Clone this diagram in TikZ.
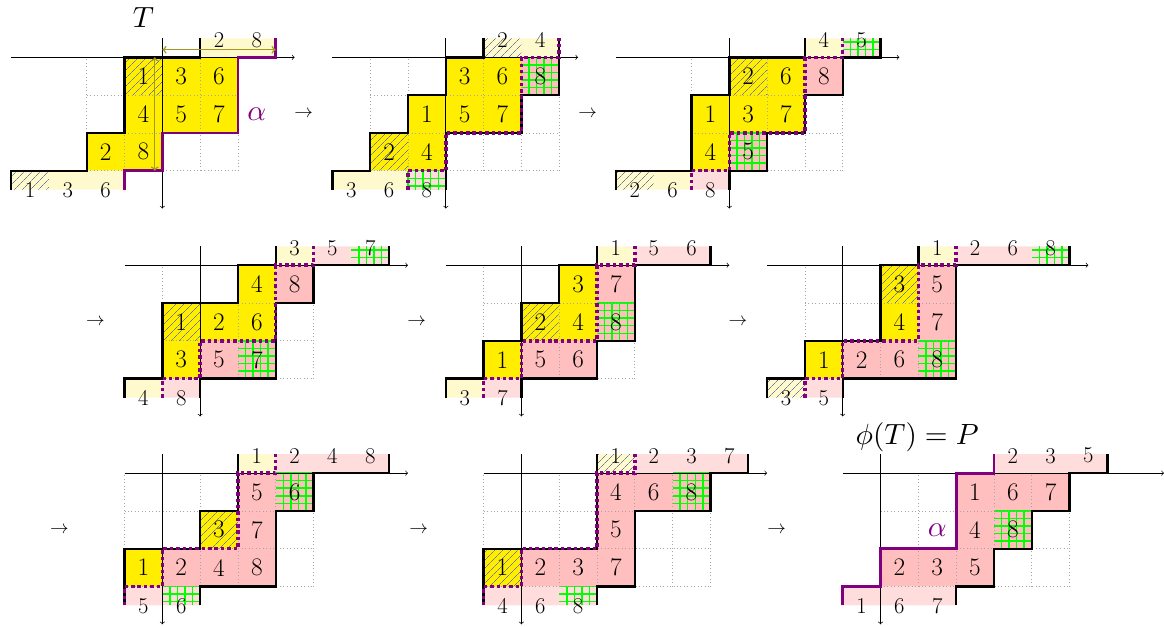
\RequirePackage{fix-cm}
\documentclass[tikz,border=0pt]{standalone}
\usetikzlibrary{patterns.meta}
\DeclareFontShape{OT1}{cmr}{m}{n}{<->cmr10}{}
\DeclareFontShape{OML}{cmm}{m}{it}{<->cmmi10}{}

\definecolor{cellyellow}{RGB}{255,238,0}
\definecolor{stripyellow}{RGB}{255,249,206}
\definecolor{cellpink}{RGB}{255,191,191}
\definecolor{strippink}{RGB}{255,221,221}
\definecolor{hatchgray}{RGB}{110,120,150}
\definecolor{alphacol}{RGB}{128,0,128}
\definecolor{spancol}{RGB}{165,152,30}

\tikzset{
  val/.style={font=\fontsize{19}{23}\selectfont, inner sep=0pt},
  sval/.style={font=\fontsize{17}{20}\selectfont, inner sep=0pt},
  bigmath/.style={font=\fontsize{22}{26}\selectfont, inner sep=0pt},
  hatched/.style={pattern={Lines[angle=45,distance=4pt,line width=0.5pt]}, pattern color=hatchgray},
  newcell/.style={green, line width=1.1pt, step=0.2},
  cellgrid/.style={gray!70, dotted, line width=0.6pt},
  axisline/.style={->, line width=0.5pt},
  shapeline/.style={line width=1.8pt},
  alphapath/.style={alphacol, line width=2.1pt},
  alphadots/.style={alphacol, line width=2.6pt, dash pattern=on 2.6pt off 2.2pt},
  spanarrow/.style={<->, spancol, line width=1.1pt},
  stepto/.style={font=\fontsize{14}{16}\selectfont, inner sep=0pt},
}

\begin{document}
\begin{tikzpicture}[x=1cm,y=1cm]
\useasboundingbox (-4.294,1.516) rectangle (26.5,-15.045);

% T
\begin{scope}
\fill[cellyellow] (-1,0) -- (2,0) -- (2,-2) -- (0,-2) -- (0,-3) -- (-2,-3) -- (-2,-2) -- (-1,-2) -- cycle;
\fill[stripyellow] (1,.5) rectangle (3,0) (-4,-3) rectangle (-1,-3.5);
\path[hatched] (-1,0) rectangle (0,-1) (-4,-3) rectangle (-3,-3.5);
\draw[cellgrid] (-2,0) grid (2,-3);
\draw[axisline] (-4,0) -- (3.5,0);
\draw[axisline] (0,.5) -- (0,-4);
\node[val] (a1) at (-.5,-.5) {1};
\node[val] (a3) at (.5,-.5) {3};
\node[val] (a6) at (1.5,-.5) {6};
\node[val] (a4) at (-.5,-1.5) {4};
\node[val] (a5) at (.5,-1.5) {5};
\node[val] (a7) at (1.5,-1.5) {7};
\node[val] (a2) at (-1.5,-2.5) {2};
\node[val] (a8) at (-.5,-2.5) {8};
\node[sval] (a2t) at (1.5,.46) {2};
\node[sval] (a8t) at (2.5,.46) {8};
\node[sval] (a1b) at (-3.5,-3.52) {1};
\node[sval] (a3b) at (-2.5,-3.52) {3};
\node[sval] (a6b) at (-1.5,-3.52) {6};
\draw[shapeline] (-4,-3.5) -- (-4,-3) -- (-2,-3) -- (-2,-2) -- (-1,-2) -- (-1,0) -- (1,0) -- (1,.5);
\draw[alphapath] (-1,-3.5) -- (-1,-3) -- (0,-3) -- (0,-2) -- (2,-2) -- (2,0) -- (3,0) -- (3,.5);
\coordinate (hl) at (0,.2);
\coordinate (hr) at (3,.2);
\coordinate (vt) at (-.2,0);
\coordinate (vb) at (-.2,-3);
\draw[spanarrow] (hl) -- (hr);
\draw[spanarrow] (vt) -- (vb);
\node[bigmath] (lblT) at (-.5,1.05) {$T$};
\node[bigmath, text=alphacol] (alphaT) at (2.5,-1.5) {$\alpha$};
\end{scope}

\node[stepto] (to1) at (3.74,-1.5) {$\to$};

% step 1
\begin{scope}[shift={(7.5,0)}]
\fill[cellyellow] (0,0) -- (2,0) -- (2,-2) -- (0,-2) -- (0,-3) -- (-2,-3) -- (-2,-2) -- (-1,-2) -- (-1,-1) -- (0,-1) -- cycle;
\fill[cellpink] (2,0) rectangle (3,-1);
\fill[stripyellow] (1,.5) rectangle (3,0) (-3,-3) rectangle (-1,-3.5);
\fill[strippink] (-1,-3) rectangle (0,-3.5);
\path[hatched] (-2,-2) rectangle (-1,-3) (1,.5) rectangle (2,0);
\draw[newcell] (2,0) grid (3,-1) (-1,-3) grid (0,-3.5);
\draw[cellgrid] (-2,0) grid (3,-3);
\draw[axisline] (-3,0) -- (3.5,0);
\draw[axisline] (0,.5) -- (0,-4);
\node[val] (b3) at (.5,-.5) {3};
\node[val] (b6) at (1.5,-.5) {6};
\node[val] (b8) at (2.5,-.5) {8};
\node[val] (b1) at (-.5,-1.5) {1};
\node[val] (b5) at (.5,-1.5) {5};
\node[val] (b7) at (1.5,-1.5) {7};
\node[val] (b2) at (-1.5,-2.5) {2};
\node[val] (b4) at (-.5,-2.5) {4};
\node[sval] (b2t) at (1.5,.46) {2};
\node[sval] (b4t) at (2.5,.46) {4};
\node[sval] (b3b) at (-2.5,-3.52) {3};
\node[sval] (b6b) at (-1.5,-3.52) {6};
\node[sval] (b8b) at (-.5,-3.52) {8};
\draw[shapeline] (-3,-3.5) -- (-3,-3) -- (-2,-3) -- (-2,-2) -- (-1,-2) -- (-1,-1) -- (0,-1) -- (0,0) -- (1,0) -- (1,.5);
\draw[shapeline] (0,-3.5) -- (0,-2) -- (2,-2) -- (2,-1) -- (3,-1) -- (3,.5);
\draw[alphadots] (-1,-3.5) -- (-1,-3) -- (0,-3) -- (0,-2) -- (2,-2) -- (2,0) -- (3,0) -- (3,.5);
\end{scope}

\node[stepto] (to2) at (11.25,-1.5) {$\to$};

% step 2
\begin{scope}[shift={(15,0)}]
\fill[cellyellow] (0,0) -- (2,0) -- (2,-2) -- (0,-2) -- (0,-3) -- (-1,-3) -- (-1,-1) -- (0,-1) -- cycle;
\fill[cellpink] (2,0) rectangle (3,-1) (0,-2) rectangle (1,-3);
\fill[stripyellow] (2,.5) rectangle (3,0) (-3,-3) rectangle (-1,-3.5);
\fill[strippink] (3,.5) rectangle (4,0) (-1,-3) rectangle (0,-3.5);
\path[hatched] (0,0) rectangle (1,-1) (-3,-3) rectangle (-2,-3.5);
\draw[newcell] (0,-2) grid (1,-3) (3,.5) grid (4,0);
\draw[cellgrid] (-1,0) grid (3,-3);
\draw[axisline] (-3,0) -- (4.5,0);
\draw[axisline] (0,.5) -- (0,-4);
\node[val] (c2) at (.5,-.5) {2};
\node[val] (c6) at (1.5,-.5) {6};
\node[val] (c8) at (2.5,-.5) {8};
\node[val] (c1) at (-.5,-1.5) {1};
\node[val] (c3) at (.5,-1.5) {3};
\node[val] (c7) at (1.5,-1.5) {7};
\node[val] (c4) at (-.5,-2.5) {4};
\node[val] (c5) at (.5,-2.5) {5};
\node[sval] (c4t) at (2.5,.46) {4};
\node[sval] (c5t) at (3.5,.46) {5};
\node[sval] (c2b) at (-2.5,-3.52) {2};
\node[sval] (c6b) at (-1.5,-3.52) {6};
\node[sval] (c8b) at (-.5,-3.52) {8};
\draw[shapeline] (-3,-3.5) -- (-3,-3) -- (-1,-3) -- (-1,-1) -- (0,-1) -- (0,0) -- (2,0) -- (2,.5);
\draw[shapeline] (0,-3.5) -- (0,-3) -- (1,-3) -- (1,-2) -- (2,-2) -- (2,-1) -- (3,-1) -- (3,0) -- (4,0) -- (4,.5);
\draw[alphadots] (-1,-3.5) -- (-1,-3) -- (0,-3) -- (0,-2) -- (2,-2) -- (2,0) -- (3,0) -- (3,.5);
\end{scope}

\node[stepto] (to3) at (-1.77,-7) {$\to$};

% step 3
\begin{scope}[shift={(1,-5.5)}]
\fill[cellyellow] (1,0) -- (2,0) -- (2,-2) -- (0,-2) -- (0,-3) -- (-1,-3) -- (-1,-1) -- (1,-1) -- cycle;
\fill[cellpink] (2,0) rectangle (3,-1) (0,-2) rectangle (2,-3);
\fill[stripyellow] (2,.5) rectangle (3,0) (-2,-3) rectangle (-1,-3.5);
\fill[strippink] (3,.5) rectangle (5,0) (-1,-3) rectangle (0,-3.5);
\path[hatched] (-1,-1) rectangle (0,-2);
\draw[newcell] (1,-2) grid (2,-3) (4,.5) grid (5,0);
\draw[cellgrid] (-1,0) grid (3,-3);
\draw[axisline] (-2,0) -- (5.5,0);
\draw[axisline] (0,.5) -- (0,-4);
\node[val] (d4) at (1.5,-.5) {4};
\node[val] (d8) at (2.5,-.5) {8};
\node[val] (d1) at (-.5,-1.5) {1};
\node[val] (d2) at (.5,-1.5) {2};
\node[val] (d6) at (1.5,-1.5) {6};
\node[val] (d3) at (-.5,-2.5) {3};
\node[val] (d5) at (.5,-2.5) {5};
\node[val] (d7) at (1.5,-2.5) {7};
\node[sval] (d3t) at (2.5,.46) {3};
\node[sval] (d5t) at (3.5,.46) {5};
\node[sval] (d7t) at (4.5,.46) {7};
\node[sval] (d4b) at (-1.5,-3.52) {4};
\node[sval] (d8b) at (-.5,-3.52) {8};
\draw[shapeline] (-2,-3.5) -- (-2,-3) -- (-1,-3) -- (-1,-1) -- (1,-1) -- (1,0) -- (2,0) -- (2,.5);
\draw[shapeline] (0,-3.5) -- (0,-3) -- (2,-3) -- (2,-1) -- (3,-1) -- (3,0) -- (5,0) -- (5,.5);
\draw[alphadots] (-1,-3.5) -- (-1,-3) -- (0,-3) -- (0,-2) -- (2,-2) -- (2,0) -- (3,0) -- (3,.5);
\end{scope}

\node[stepto] (to4) at (6.73,-7) {$\to$};

% step 4
\begin{scope}[shift={(9.5,-5.5)}]
\fill[cellyellow] (1,0) -- (2,0) -- (2,-2) -- (0,-2) -- (0,-1) -- (1,-1) -- cycle (-1,-2) rectangle (0,-3);
\fill[cellpink] (2,0) rectangle (3,-2) (0,-2) rectangle (2,-3);
\fill[stripyellow] (2,.5) rectangle (3,0) (-2,-3) rectangle (-1,-3.5);
\fill[strippink] (3,.5) rectangle (5,0) (-1,-3) rectangle (0,-3.5);
\path[hatched] (0,-1) rectangle (1,-2);
\draw[newcell] (2,-1) grid (3,-2);
\draw[cellgrid] (-1,0) grid (3,-3);
\draw[axisline] (-2,0) -- (5.5,0);
\draw[axisline] (0,.5) -- (0,-4);
\node[val] (e3) at (1.5,-.5) {3};
\node[val] (e7) at (2.5,-.5) {7};
\node[val] (e2) at (.5,-1.5) {2};
\node[val] (e4) at (1.5,-1.5) {4};
\node[val] (e8) at (2.5,-1.5) {8};
\node[val] (e1) at (-.5,-2.5) {1};
\node[val] (e5) at (.5,-2.5) {5};
\node[val] (e6) at (1.5,-2.5) {6};
\node[sval] (e1t) at (2.5,.46) {1};
\node[sval] (e5t) at (3.5,.46) {5};
\node[sval] (e6t) at (4.5,.46) {6};
\node[sval] (e3b) at (-1.5,-3.52) {3};
\node[sval] (e7b) at (-.5,-3.52) {7};
\draw[shapeline] (-2,-3.5) -- (-2,-3) -- (-1,-3) -- (-1,-2) -- (0,-2) -- (0,-1) -- (1,-1) -- (1,0) -- (2,0) -- (2,.5);
\draw[shapeline] (0,-3.5) -- (0,-3) -- (2,-3) -- (2,-2) -- (3,-2) -- (3,0) -- (5,0) -- (5,.5);
\draw[alphadots] (-1,-3.5) -- (-1,-3) -- (0,-3) -- (0,-2) -- (2,-2) -- (2,0) -- (3,0) -- (3,.5);
\end{scope}

\node[stepto] (to5) at (15.23,-7) {$\to$};

% step 5
\begin{scope}[shift={(18,-5.5)}]
\fill[cellyellow] (1,0) rectangle (2,-2) (-1,-2) rectangle (0,-3);
\fill[cellpink] (2,0) rectangle (3,-2) (0,-2) rectangle (3,-3);
\fill[stripyellow] (2,.5) rectangle (3,0) (-2,-3) rectangle (-1,-3.5);
\fill[strippink] (3,.5) rectangle (6,0) (-1,-3) rectangle (0,-3.5);
\path[hatched] (1,0) rectangle (2,-1) (-2,-3) rectangle (-1,-3.5);
\draw[newcell] (2,-2) grid (3,-3) (5,.5) grid (6,0);
\draw[cellgrid] (-1,0) grid (3,-3);
\draw[axisline] (-2,0) -- (6.5,0);
\draw[axisline] (0,.5) -- (0,-4);
\node[val] (f3) at (1.5,-.5) {3};
\node[val] (f5) at (2.5,-.5) {5};
\node[val] (f4) at (1.5,-1.5) {4};
\node[val] (f7) at (2.5,-1.5) {7};
\node[val] (f1) at (-.5,-2.5) {1};
\node[val] (f2) at (.5,-2.5) {2};
\node[val] (f6) at (1.5,-2.5) {6};
\node[val] (f8) at (2.5,-2.5) {8};
\node[sval] (f1t) at (2.5,.46) {1};
\node[sval] (f2t) at (3.5,.46) {2};
\node[sval] (f6t) at (4.5,.46) {6};
\node[sval] (f8t) at (5.5,.46) {8};
\node[sval] (f3b) at (-1.5,-3.52) {3};
\node[sval] (f5b) at (-.5,-3.52) {5};
\draw[shapeline] (-2,-3.5) -- (-2,-3) -- (-1,-3) -- (-1,-2) -- (1,-2) -- (1,0) -- (2,0) -- (2,.5);
\draw[shapeline] (0,-3.5) -- (0,-3) -- (3,-3) -- (3,0) -- (6,0) -- (6,.5);
\draw[alphadots] (-1,-3.5) -- (-1,-3) -- (0,-3) -- (0,-2) -- (2,-2) -- (2,0) -- (3,0) -- (3,.5);
\end{scope}

\node[stepto] (to6) at (-2.72,-12.5) {$\to$};

% step 6
\begin{scope}[shift={(0,-11)}]
\fill[cellyellow] (1,-1) rectangle (2,-2) (-1,-2) rectangle (0,-3);
\fill[cellpink] (2,0) rectangle (4,-1) (2,-1) rectangle (3,-2) (0,-2) rectangle (3,-3);
\fill[stripyellow] (2,.5) rectangle (3,0);
\fill[strippink] (3,.5) rectangle (6,0) (-1,-3) rectangle (1,-3.5);
\path[hatched] (1,-1) rectangle (2,-2);
\draw[newcell] (3,0) grid (4,-1) (0,-3) grid (1,-3.5);
\draw[cellgrid] (-1,0) grid (4,-3);
\draw[axisline] (-1,0) -- (6.5,0);
\draw[axisline] (0,.5) -- (0,-4);
\node[val] (g5) at (2.5,-.5) {5};
\node[val] (g6) at (3.5,-.5) {6};
\node[val] (g3) at (1.5,-1.5) {3};
\node[val] (g7) at (2.5,-1.5) {7};
\node[val] (g1) at (-.5,-2.5) {1};
\node[val] (g2) at (.5,-2.5) {2};
\node[val] (g4) at (1.5,-2.5) {4};
\node[val] (g8) at (2.5,-2.5) {8};
\node[sval] (g1t) at (2.5,.46) {1};
\node[sval] (g2t) at (3.5,.46) {2};
\node[sval] (g4t) at (4.5,.46) {4};
\node[sval] (g8t) at (5.5,.46) {8};
\node[sval] (g5b) at (-.5,-3.52) {5};
\node[sval] (g6b) at (.5,-3.52) {6};
\draw[shapeline] (-1,-3.5) -- (-1,-2) -- (1,-2) -- (1,-1) -- (2,-1) -- (2,.5);
\draw[shapeline] (1,-3.5) -- (1,-3) -- (3,-3) -- (3,-1) -- (4,-1) -- (4,0) -- (6,0) -- (6,.5);
\draw[alphadots] (-1,-3.5) -- (-1,-3) -- (0,-3) -- (0,-2) -- (2,-2) -- (2,0) -- (3,0) -- (3,.5);
\end{scope}

\node[stepto] (to7) at (6.78,-12.5) {$\to$};

% step 7
\begin{scope}[shift={(9.5,-11)}]
\fill[cellyellow] (-1,-2) rectangle (0,-3);
\fill[cellpink] (2,0) rectangle (5,-1) (2,-1) rectangle (3,-2) (0,-2) rectangle (3,-3);
\fill[stripyellow] (2,.5) rectangle (3,0);
\fill[strippink] (3,.5) rectangle (6,0) (-1,-3) rectangle (2,-3.5);
\path[hatched] (-1,-2) rectangle (0,-3) (2,.5) rectangle (3,0);
\draw[newcell] (4,0) grid (5,-1) (1,-3) grid (2,-3.5);
\draw[cellgrid] (-1,0) grid (5,-3);
\draw[axisline] (-1,0) -- (6.5,0);
\draw[axisline] (0,.5) -- (0,-4);
\node[val] (h4) at (2.5,-.5) {4};
\node[val] (h6) at (3.5,-.5) {6};
\node[val] (h8) at (4.5,-.5) {8};
\node[val] (h5) at (2.5,-1.5) {5};
\node[val] (h1) at (-.5,-2.5) {1};
\node[val] (h2) at (.5,-2.5) {2};
\node[val] (h3) at (1.5,-2.5) {3};
\node[val] (h7) at (2.5,-2.5) {7};
\node[sval] (h1t) at (2.5,.46) {1};
\node[sval] (h2t) at (3.5,.46) {2};
\node[sval] (h3t) at (4.5,.46) {3};
\node[sval] (h7t) at (5.5,.46) {7};
\node[sval] (h4b) at (-.5,-3.52) {4};
\node[sval] (h6b) at (.5,-3.52) {6};
\node[sval] (h8b) at (1.5,-3.52) {8};
\draw[shapeline] (-1,-3.5) -- (-1,-2) -- (2,-2) -- (2,.5);
\draw[shapeline] (2,-3.5) -- (2,-3) -- (3,-3) -- (3,-1) -- (5,-1) -- (5,0) -- (6,0) -- (6,.5);
\draw[alphadots] (-1,-3.5) -- (-1,-3) -- (0,-3) -- (0,-2) -- (2,-2) -- (2,0) -- (3,0) -- (3,.5);
\end{scope}

\node[stepto] (to8) at (16.25,-12.5) {$\to$};

% phi(T) = P
\begin{scope}[shift={(19,-11)}]
\fill[cellpink] (2,0) rectangle (5,-1) (2,-1) rectangle (4,-2) (0,-2) rectangle (3,-3);
\fill[strippink] (3,.5) rectangle (6,0) (-1,-3) rectangle (2,-3.5);
\draw[newcell] (3,-1) grid (4,-2);
\draw[cellgrid] (0,0) grid (5,-3);
\draw[axisline] (-1,0) -- (7.5,0);
\draw[axisline] (0,.5) -- (0,-4);
\node[val] (i1) at (2.5,-.5) {1};
\node[val] (i6) at (3.5,-.5) {6};
\node[val] (i7) at (4.5,-.5) {7};
\node[val] (i4) at (2.5,-1.5) {4};
\node[val] (i8) at (3.5,-1.5) {8};
\node[val] (i2) at (.5,-2.5) {2};
\node[val] (i3) at (1.5,-2.5) {3};
\node[val] (i5) at (2.5,-2.5) {5};
\node[sval] (i2t) at (3.5,.46) {2};
\node[sval] (i3t) at (4.5,.46) {3};
\node[sval] (i5t) at (5.5,.46) {5};
\node[sval] (i1b) at (-.5,-3.52) {1};
\node[sval] (i6b) at (.5,-3.52) {6};
\node[sval] (i7b) at (1.5,-3.52) {7};
\draw[shapeline] (2,-3.5) -- (2,-3) -- (3,-3) -- (3,-2) -- (4,-2) -- (4,-1) -- (5,-1) -- (5,0) -- (6,0) -- (6,.5);
\draw[alphapath] (-1,-3.5) -- (-1,-3) -- (0,-3) -- (0,-2) -- (2,-2) -- (2,0) -- (3,0) -- (3,.5);
\node[bigmath, text=alphacol] (alphaP) at (1.5,-1.5) {$\alpha$};
\node[bigmath] (lblP) at (.97,.95) {$\phi(T) = P$};
\end{scope}
\end{tikzpicture}
\end{document}
